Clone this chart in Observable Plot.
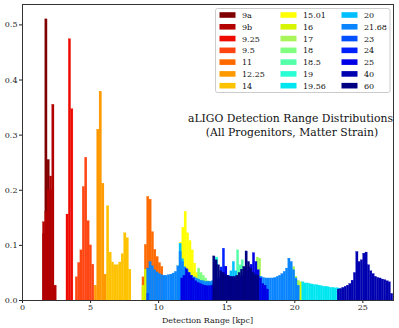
<!DOCTYPE html>
<html><head><meta charset="utf-8">
<script src="https://cdn.jsdelivr.net/npm/d3@7"></script>
<script src="https://cdn.jsdelivr.net/npm/@observablehq/plot@0.6"></script>
<style>body{margin:0;background:#fff}</style>
</head><body><div id="chart"></div>
<script>
// Progenitor names and colours (legend order = drawing order)
const names = ["9a","9b","9.25","9.5","11","12.25","14","15.01","16","17","18","18.5","19","19.56","20","21.68","23","24","25","40","60"];
const colors = ["#800000","#b30000","#ee0a00","#ff4511","#ff6a00","#ff9900","#ffc200","#ffff00","#d8f500","#a8f55a","#80ff80","#55ffaa","#2affd4","#00e6f0","#00bfff","#0a85ff","#0050ff","#0020ff","#0000e6","#0000b0","#000080"];

// Histogram heights (probability per bin); each segment: [first bin edge kpc, bin width kpc, heights]
const h9a   = [0.12,0.51,0.255,0.2];
const h9b   = [0.142,0.16,0.2,0.225,0.355,0.027];
const h925  = [0.156,0.474,0.347];
const h95   = [0.042,0.068,0.091,0.206,0.259,0.144,0.1,0.065];
const h11   = [0.042,0.101,0.188,0.183,0.124,0.092,0.079,0.068,0.061];
const h1225 = [0.027,0.31,0.379,0.212,0.047];
const h14   = [0.171,0.087,0.069,0.064,0.064,0.069,0.084,0.122,0.113,0.056];
const h1501 = [0.03,0.062,0.105,0.132,0.161,0.122,0.108,0.091,0.067,0.05];
const h16a  = [0.027,0.056];
const h16b  = [0.033];
const h17a  = [0.078,0.076];
const h17b  = [0.061,0.043,0.036];
const h18   = [0.058,0.05,0.045,0.04,0.035,0.033,0.03];
const h185  = [0.091,0.064,0.073];
const h19   = [0.078,0.078];
const h1956 = [0.033,0.031,0.031,0.03,0.029,0.028,0.028,0.027,0.026,0.025,0.025,0.024,0.023,0.023,0.022,0.022,0.021];
const h20   = [0.05,0.103,0.075,0.06,0.05,0.045,0.04,0.035,0.032,0.03,0.03,0.03,0.03,0.03,0.03,0.03,0.03,0.032,0.035,0.038,0.04,0.042,0.045,0.053,0.07,0.053];
const h2168 = [0.058,0.07,0.062,0.055,0.051,0.048,0.046,0.045,0.045,0.046,
               0.047,0.049,0.052,0.062,0.088,0.07,0.06,0.055,0.05,0.045,
               0.042,0.04,0.038,0.036,0.035,0.034,0.034,0.034,0.035,0.036,
               0.037,0.038,0.039,0.04,0.04,0.04,0.04,0.04,0.04,0.041,
               0.041,0.041,0.042,0.042,0.042,0.042,0.042,0.043,0.043,0.043,
               0.041,0.04,0.04,0.04,0.04,0.041,0.043,0.045,0.048,0.052,
               0.058,0.076,0.07,0.055,0.04,0.027];
const h23   = [0.012];
const h24   = [0.06,0.094,0.061];
const h25   = [0.04,0.045,0.057,0.05,0.045,0.04,0.035,0.032,0.03,0.028,
               0.027,0.026,0.026,0.027,0.03,0.035,0.04,0.045,0.05,0.061,
               0.045,0.042,0.04,0.04,0.04,0.042,0.045,0.05,0.055,0.06,
               0.065,0.086,0.07,0.055,0.04,0.03,0.027,0.02];
const h40   = [0.02,0.021,0.023,0.025,0.027,0.03,0.036,0.05,0.088,0.07,0.073,0.085,0.087,0.064,0.053,0.048,0.043,0.041,0.04,0.038,0.037,0.035,0.033,0.012];
const h60   = [0.08,0.073,0.064,0.053,0.05,0.046,0.045,0.043,0.043,0.043,0.045,0.05,0.056,0.061,0.089,0.07,0.058,0.05,0.046,0.045];

const segments = {
  "9a":[[1.5,0.17,h9a]], "9b":[[1.5,0.17,h9b]], "9.25":[[3.23,0.17,h925]],
  "9.5":[[3.91,0.171,h95]], "11":[[8.81,0.171,h11]], "12.25":[[5.3,0.18,h1225]],
  "14":[[6.2,0.18,h14]], "15.01":[[11.22,0.171,h1501]],
  "16":[[8.81,0.171,h16a],[20.37,0.17,h16b]], "17":[[17.2,0.17,h17a],[19.86,0.17,h17b]],
  "18":[[12.89,0.17,h18]], "18.5":[[15.75,0.17,h185]], "19":[[14.05,0.17,h19]],
  "19.56":[[20.54,0.17,h1956]], "20":[[11.36,0.17,h20]], "21.68":[[9.15,0.17,h2168]],
  "23":[[9.15,0.17,h23]], "24":[[14.54,0.17,h24]], "25":[[11.65,0.17,h25]],
  "40":[[23.15,0.17,h40]], "60":[[14.0,0.17,h60]]
};

const rows = [];
for (const n of names) for (const [s, w, hs] of segments[n]) hs.forEach((h, k) => rows.push({name: n, x1: s + k*w, x2: s + (k+1)*w, y: h}));

const W = 399, H = 328;
const plot = Plot.plot({
  width: W, height: H,
  marginLeft: 22, marginRight: 6, marginTop: 4, marginBottom: 28,
  style: {fontFamily: "DejaVu Serif", fontSize: "8px", background: "#fff", overflow: "visible", color: "#222"},
  x: {domain: [0, 27.25], label: null},
  y: {domain: [0, 0.537], label: null},
  color: {domain: names, range: colors},
  marks: [
    Plot.rect(rows, {x1: "x1", x2: "x2", y1: 0, y2: "y", fill: "name", stroke: "name", strokeWidth: 0.25}),
    Plot.axisX({ticks: [0,5,10,15,20,25], tickFormat: d3.format("d"), tickSize: 3, tickPadding: 1, label: null}),
    Plot.axisY({ticks: [0,0.1,0.2,0.3,0.4,0.5], tickFormat: d3.format(".1f"), tickSize: 3, tickPadding: 2, label: null}),
    Plot.frame({stroke: "#333", strokeWidth: 1})
  ]
});
document.getElementById("chart").appendChild(plot);

const svg = d3.select(plot);
// x label
svg.append("text").attr("x", 207.5).attr("y", 323).attr("text-anchor", "middle")
   .attr("font-size", 8).attr("fill", "#222").text("Detection Range [kpc]");
// annotation
const ann = svg.append("g").attr("font-size", 10.8).attr("fill", "#111").attr("text-anchor", "middle");
ann.append("text").attr("x", 290.5).attr("y", 122).text("aLIGO Detection Range Distributions");
ann.append("text").attr("x", 292).attr("y", 135.5).text("(All Progenitors, Matter Strain)");
// legend
const lg = svg.append("g").attr("text-anchor", "start");
lg.append("rect").attr("x", 215.5).attr("y", 8.5).attr("width", 174.5).attr("height", 84)
  .attr("rx", 2).attr("fill", "#fff").attr("fill-opacity", 0.85).attr("stroke", "#ccc").attr("stroke-width", 1);
const colX = [219.5, 280.5, 341.5];
names.forEach((n, i) => {
  const c = Math.floor(i / 7), r = i % 7;
  const cy = 15 + r * 11.78;
  lg.append("rect").attr("x", colX[c]).attr("y", cy - 2.8).attr("width", 16).attr("height", 5.6).attr("fill", colors[i]);
  lg.append("text").attr("x", colX[c] + 22.5).attr("y", cy + 3).attr("font-size", 8).attr("fill", "#111")
    .attr("text-anchor", "start").text(n);
});
</script></body></html>
